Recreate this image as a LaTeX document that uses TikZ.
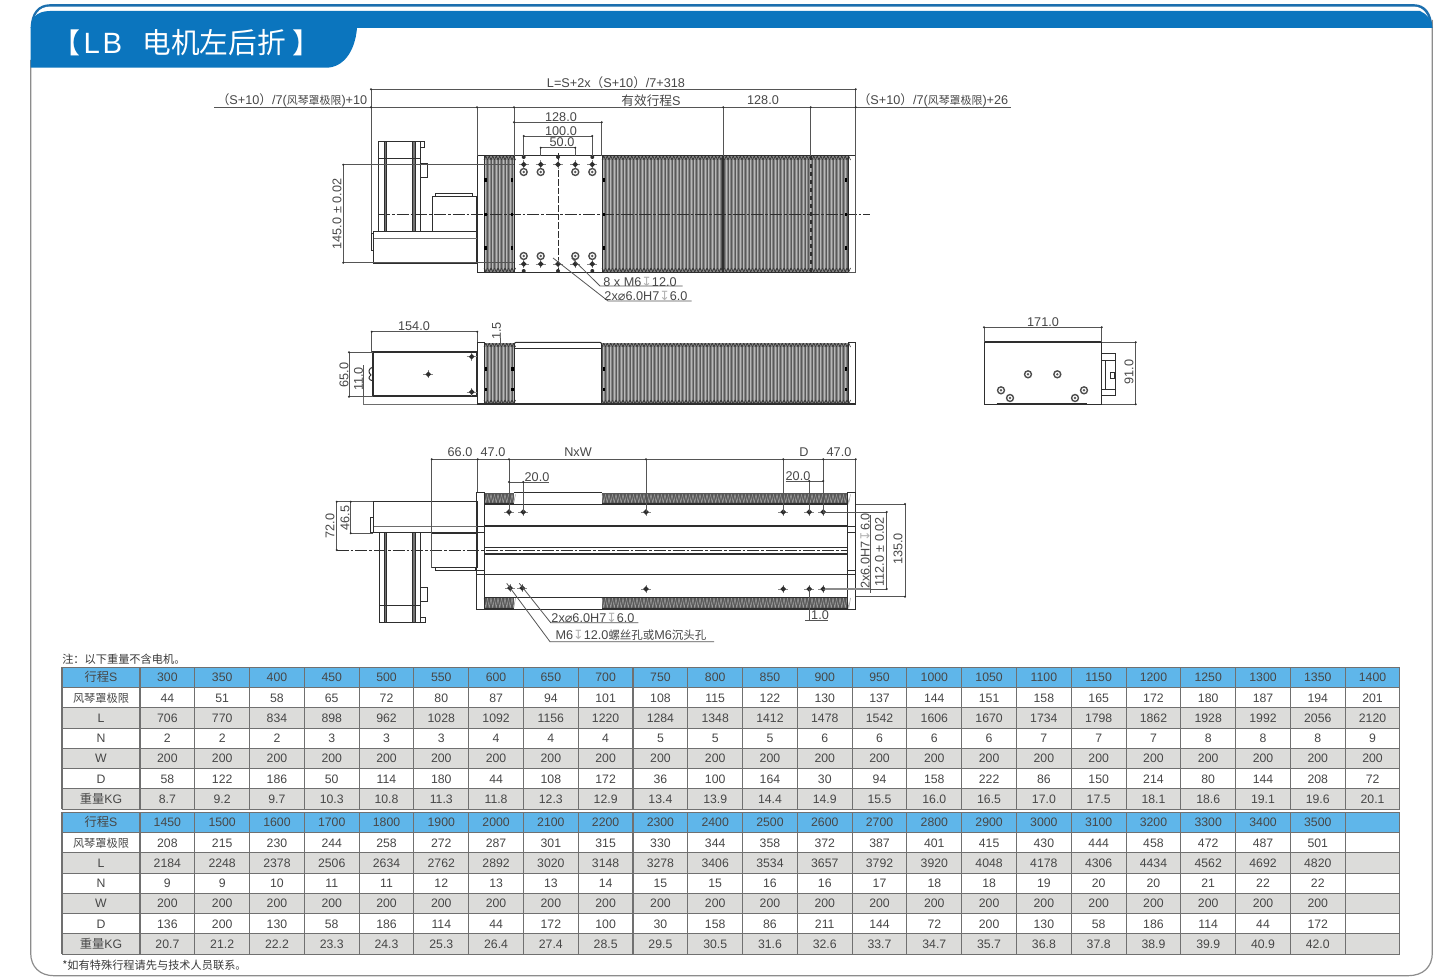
\documentclass[tikz,border=0pt]{standalone}
\usepackage{fontspec}
\setmainfont{Liberation Sans}
\newfontfamily\cjk{Noto Sans CJK SC}
\newfontfamily\symb{DejaVu Sans}
\definecolor{tabblue}{HTML}{0B75BE}
\definecolor{stripblue}{HTML}{1C6FAE}
\definecolor{headblue}{HTML}{5FB6EA}
\definecolor{rowgray}{HTML}{DCDCDA}
\definecolor{gridgray}{HTML}{707070}
\definecolor{framegray}{HTML}{8C8C8C}
\definecolor{txtgray}{HTML}{474747}
\definecolor{lnc}{HTML}{2E2E2E}
\definecolor{dimc}{HTML}{555555}
\definecolor{ribfill}{HTML}{868686}
\newcommand\dept{{\symb\color{black!30}↧}}
\newcommand\dia{{\symb ⌀}}
\tikzset{
    part/.style={draw=lnc, line width=0.75pt},
    heavy/.style={draw=lnc, line width=1.3pt},
    thinpart/.style={draw=lnc!70, line width=0.5pt},
    dimline/.style={draw=dimc, line width=0.6pt},
    centre/.style={draw=lnc, line width=0.7pt, dash pattern=on 9pt off 1.5pt on 2pt off 1.5pt},
    dimtxt/.style={text=txtgray, inner sep=0pt, font=\fontsize{9.5}{11}\selectfont},
    celltxt/.style={text=txtgray, inner sep=0pt, text height=7pt, text depth=0pt, font=\fontsize{9.2}{11}\selectfont},
    notetxt/.style={text=txtgray!80!black, inner sep=0pt, anchor=west, font=\fontsize{8.4}{10}\selectfont},
}
% ribs of a bellows seen from above or from the side
\newcommand\bellows[4]{
    \fill[ribfill] (#1,#3) rectangle (#2,#4);
    \pgfmathsetmacro\nxt{#1+3.5}
    \foreach \x in {#1,\nxt,...,#2} {
        \draw[draw=black!65, line width=0.35pt] (\x,#3+4) -- (\x,#4-3);
        \draw[draw=white!72!black, line width=0.5pt] (\x+1.75,#3+4) -- (\x+1.75,#4-3);
        \draw[draw=lnc, line width=0.45pt] (\x,#3+4) -- (\x+1.75,#3) -- (\x+3.5,#3+4);
        \draw[draw=lnc, line width=0.45pt] (\x,#4-4) -- (\x+1.75,#4) -- (\x+3.5,#4-4);
    }
    \fill[white] (#1,#3-1) rectangle (#2,#3+0.2);
}
% the same ribs seen edge on
\newcommand\ribstrip[4]{
    \fill[black!66] (#1,#3) rectangle (#2,#4);
    \pgfmathsetmacro\nxt{#1+3.5}
    \foreach \x in {#1,\nxt,...,#2} {
        \draw[draw=white!62!black, line width=0.4pt] (\x,#3+1) -- (\x+1.75,#4-1) -- (\x+3.5,#3+1);
    }
    \draw[heavy] (#1,#4) -- (#2,#4);
}
\newcommand\bigdot[2]{\fill[lnc] (#1,#2) circle (1.5pt);}
\newcommand\sqdot[2]{\fill[black] (#1-1.2,#2-1.8) rectangle (#1+1.2,#2+1.8);}
\newcommand\ring[2]{\draw[draw=lnc!85, line width=1.05pt, fill=white] (#1,#2) circle (2.6pt); \fill[lnc!80] (#1,#2) circle (1pt);}
\newcommand\crossmark[2]{
    \draw[draw=dimc!70, line width=0.45pt] (#1-5,#2) -- (#1+5,#2);
    \draw[draw=dimc!70, line width=0.45pt] (#1,#2-4) -- (#1,#2+4);
    \fill[lnc, rotate around={45:(#1,#2)}] (#1-2,#2-2) rectangle (#1+2,#2+2);
}
% one table, #1 is its name, #2 the top edge
\newcommand\datatable[3]{
    \foreach \fillcol [count=\r from 0] in {headblue,white,rowgray,white,rowgray,white,rowgray} {
        \fill[\fillcol] (62,#2+20.25*\r) rectangle (1400,#2+20.25*\r+20.25);
    }
    \foreach \r in {0,...,7} {
        \draw[draw=gridgray, line width=0.8pt] (62,#2+20.25*\r) -- (1400,#2+20.25*\r);
    }
    \draw[draw=gridgray, line width=0.8pt] (62,#2) -- (62,#2+141.75);
    \foreach \c in {0,...,23} {
        \draw[draw=gridgray, line width=0.8pt] (140+54.78*\c,#2) -- (140+54.78*\c,#2+141.75);
    }
    \foreach \rowvals [count=\r from 0] in {#3} {
        \foreach \val [count=\c from 0] in \rowvals {
            \pgfmathsetmacro\cx{\c==0 ? 101 : 140+54.78*(\c-0.5)}
            \node[celltxt] (#1-\r-\c) at (\cx,#2+20.25*\r+10) {\val};
        }
    }
}
\begin{document}
\begin{tikzpicture}[x=0.75pt,y=-0.75pt]
    \useasboundingbox (0,0) rectangle (1444,977);
    \fill[white] (0,0) rectangle (1444,977);

    % page frame and title tab
    \draw[draw=framegray, line width=0.9pt] (30.7,60) -- (30.7,953) .. controls (30.7,967) and (40,975.7) .. (54,975.7) -- (1408,975.7) .. controls (1423,975.7) and (1432.3,967) .. (1432.3,953) -- (1432.3,20);
    \fill[stripblue] (30.7,28) .. controls (30.7,13) and (38,4.2) .. (50,4.2) -- (1414,4.2) .. controls (1425,4.2) and (1432.3,13) .. (1432.3,28) -- cycle;
    \fill[white] (33,28) .. controls (33,15) and (39,6.6) .. (50,6.6) -- (1414,6.6) .. controls (1423,6.6) and (1430,15) .. (1430,28) -- cycle;
    \fill[tabblue] (30.7,67.7) -- (30.7,28) .. controls (30.7,19) and (36,11) .. (50,11) -- (1420,11) .. controls (1427,14) and (1432.3,20) .. (1432.3,28) -- (357,28) .. controls (355,52) and (343,67.7) .. (326,67.7) -- cycle;
    \node[text=white, inner sep=0pt, font=\fontsize{21}{24}\cjk] (titleL) at (66,43) {【};
    \node[text=white, inner sep=0pt, font=\fontsize{22}{24}\selectfont] (titleLB) at (103,43) {L\kern2pt B};
    \node[text=white, inner sep=0pt, font=\fontsize{21.5}{24}\cjk] (titleCN) at (214,43) {电机左后折};
    \node[text=white, inner sep=0pt, font=\fontsize{21}{24}\cjk] (titleR) at (306,43) {】};

    % top view
    \bellows{484}{514}{156}{272}
    \bellows{602}{848}{156}{272}
    \draw[part] (477,156) rectangle (484,272);
    \draw[part] (848,156) rectangle (855.7,272);
    \draw[part] (514,156) rectangle (602,272);
    \draw[part] (484,156) -- (848,156) (484,272) -- (848,272);
    \draw[heavy] (723.3,156) -- (723.3,272);
    \draw[draw=lnc, line width=1.4pt, dashed] (810.7,156) -- (810.7,272);
    \draw[centre] (378,214.3) -- (870,214.3);
    \draw[draw=lnc, line width=0.6pt, dash pattern=on 5pt off 1.5pt] (558,153) -- (558,274);
    \foreach \x in {485.5,512,604,846} {
        \sqdot{\x}{180} \sqdot{\x}{214.3} \sqdot{\x}{248}
    }
    \foreach \x in {523.7,540.7,575.3,592.3} {
        \crossmark{\x}{164.5}
        \ring{\x}{172}
        \crossmark{\x}{264}
        \ring{\x}{256}
    }
    \foreach \x in {523.7,592.3,558} {
        \bigdot{\x}{157} \bigdot{\x}{271}
    }
    \crossmark{558}{164.5}
    \crossmark{558}{264}
    % motor, gearbox and coupling housing
    \draw[part] (378.7,141.7) rectangle (420,231.7);
    \draw[part, fill=black!55] (384,141.7) rectangle (386.7,231.7);
    \draw[part, fill=black!55] (412.3,141.7) rectangle (415,231.7);
    \draw[part] (378.7,159) -- (420,159);
    \draw[part] (420,142) rectangle (424.5,148);
    \draw[part] (420,163.5) rectangle (427,177);
    \draw[part] (432,196.7) rectangle (476.7,231.7);
    \draw[part] (435.7,196.7) -- (435.7,193.7) -- (472.7,193.7) -- (472.7,196.7);
    \draw[part] (373.3,231.7) rectangle (476.7,263.3);
    \draw[heavy] (373.3,263.3) -- (476.7,263.3) (476.7,231.7) -- (476.7,263.3);
    \draw[thinpart] (373.3,238) -- (476.7,238);
    \draw[part] (371,233) rectangle (373.3,250);

    % top view dimensions
    \draw[dimline] (371,233) -- (371,89.3) -- (855.7,89.3) -- (855.7,272) -- (848,272);
    \draw[dimline] (214,107.3) -- (1010.7,107.3);
    \draw[dimline] (477,107.3) -- (477,156);
    \draw[dimline] (514,107.3) -- (514,156);
    \draw[dimline] (723.3,107.3) -- (723.3,156);
    \draw[dimline] (810.7,107.3) -- (810.7,156);
    \draw[dimline] (514,122.3) -- (601.7,122.3) -- (601.7,156);
    \draw[dimline] (523.7,156) -- (523.7,136) -- (592.3,136) -- (592.3,156);
    \draw[dimline] (540.7,156) -- (540.7,147.7) -- (575.3,147.7) -- (575.3,156);
    \draw[dimline] (514,164.7) -- (343.3,164.7) -- (343.3,262.7) -- (514,262.7);
    \draw[dimline] (553,258) -- (608,301) -- (691.7,301);
    \draw[dimline] (571.7,258) -- (600,286) -- (682.7,286);
    \foreach \x/\y in {371/89.3,855.7/89.3,371/107.3,477/107.3,514/107.3,723.3/107.3,810.7/107.3,855.7/107.3,514/122.3,601.7/122.3,523.7/136,592.3/136,540.7/147.7,575.3/147.7,343.3/164.7,343.3/262.7} {
        \fill[lnc] (\x,\y) circle (0.85pt);
    }
    \node[dimtxt] (lenTotal) at (616,82.5) {L=S+2x{\cjk （}S+10{\cjk ）}/7+318};
    \node[dimtxt] (lenLeft) at (292,100.5) {{\cjk （}S+10{\cjk ）}/7({\cjk\fontsize{8.2}{10}\selectfont 风琴罩极限})+10};
    \node[dimtxt] (lenStroke) at (651,100.5) {{\cjk 有效行程}S};
    \node[dimtxt] (lenPitch) at (763,100) {128.0};
    \node[dimtxt] (lenRight) at (933,100.5) {{\cjk （}S+10{\cjk ）}/7({\cjk\fontsize{8.2}{10}\selectfont 风琴罩极限})+26};
    \node[dimtxt] (topA) at (561,117.5) {128.0};
    \node[dimtxt] (topB) at (561,131.5) {100.0};
    \node[dimtxt] (topC) at (562,142.5) {50.0};
    \node[dimtxt, rotate=90] (topH) at (337,214) {145.0 ± 0.02};
    \node[dimtxt] (noteHoles) at (640,281.5) {8 x M6\dept12.0};
    \node[dimtxt] (notePins) at (646,295.5) {2x\dia6.0H7\dept6.0};

    % side view
    \bellows{484}{514.3}{343}{404}
    \bellows{602}{848}{343}{404}
    \draw[part] (477,342.7) rectangle (484,404);
    \draw[part] (848,342.7) rectangle (855.7,404);
    \draw[part] (514.3,348.3) -- (601.7,348.3);
    \draw[part, rounded corners=1.5pt] (514.3,348.3) -- (514.3,342.3) -- (601.7,342.3) -- (601.7,348.3);
    \draw[heavy] (477,404) -- (855.7,404);
    \draw[part] (514.3,348.3) -- (514.3,404) (601.7,348.3) -- (601.7,404);
    \draw[heavy] (373.3,352.3) rectangle (476.7,396);
    \draw[thinpart] (363.3,396) -- (363.3,404.3) -- (477,404.3);
    \draw[part] (373.3,367) .. controls (368,368) and (368,373) .. (371,375) .. controls (368,377) and (368,380) .. (373.3,381);
    \foreach \x in {485.7,512.3,604,846} {
        \sqdot{\x}{368.7} \sqdot{\x}{389.3}
    }
    \crossmark{428.3}{374.3}
    \crossmark{471.7}{356.7}
    \crossmark{471.7}{392}
    \draw[dimline] (371.7,352) -- (371.7,331.7) -- (477.3,331.7) -- (477.3,342);
    \draw[dimline] (373,352.3) -- (349,352.3) -- (349,396.7) -- (373,396.7);
    \draw[dimline] (363.3,365) -- (363.3,396);
    \draw[dimline] (500,338) -- (500,346);
    \foreach \x/\y in {371.7/331.7,477.3/331.7,349/352.3,349/396.7} {
        \fill[lnc] (\x,\y) circle (0.85pt);
    }
    \node[dimtxt] (sideLen) at (414,326) {154.0};
    \node[dimtxt, rotate=90] (sideH) at (344,375) {65.0};
    \node[dimtxt, rotate=90] (sideBase) at (358.5,379) {11.0};
    \node[dimtxt, rotate=90] (sideGap) at (496.5,331) {1.5};

    % end view
    \draw[part] (984,342.3) rectangle (1101.7,404.3);
    \draw[heavy] (984,342.3) -- (1101.7,342.3);
    \draw[heavy] (996.7,404.3) -- (1086.7,404.3);
    \draw[part] (1101.7,353.3) -- (1115,353.3) -- (1115,395.7) -- (1101.7,395.7);
    \draw[part] (1101.7,360) -- (1115,360) (1101.7,389) -- (1115,389) (1105.5,360) -- (1105.5,389);
    \draw[part] (1110,372) rectangle (1114,378);
    \foreach \x/\y in {1028/374.3,1057.3/374.3,1001/390.3,1010/398,1075/398,1084/390.3} {
        \ring{\x}{\y}
    }
    \draw[dimline] (984,342) -- (984,327.3) -- (1101.7,327.3) -- (1101.7,342);
    \draw[dimline] (1101.7,342.3) -- (1135.7,342.3) -- (1135.7,404.3) -- (1101.7,404.3);
    \foreach \x/\y in {984/327.3,1101.7/327.3,1135.7/342.3,1135.7/404.3} {
        \fill[lnc] (\x,\y) circle (0.85pt);
    }
    \node[dimtxt] (endLen) at (1043,322) {171.0};
    \node[dimtxt, rotate=90] (endH) at (1129,372) {91.0};

    % underside view
    \ribstrip{484}{514}{493.3}{504}
    \ribstrip{602}{848}{493.3}{504}
    \ribstrip{484}{514}{597}{609}
    \ribstrip{602}{848}{597}{609}
    \draw[part] (514,492.3) -- (602,492.3) (514,609) -- (602,609);
    \draw[part] (476.7,492.3) rectangle (484.3,609.3);
    \draw[part] (847.7,492.3) rectangle (855.7,609.3);
    \foreach \y in {526,532,570,574.7} {
        \draw[part] (476.7,\y) -- (484.3,\y) (847.7,\y) -- (855.7,\y);
    }
    \draw[part] (484.3,504) -- (847.7,504);
    \draw[part] (484.3,597) -- (847.7,597);
    \draw[draw=lnc, line width=0.9pt] (484.3,526) -- (847.7,526);
    \draw[draw=lnc, line width=0.9pt] (484.3,547.3) -- (847.7,547.3);
    \draw[draw=lnc, line width=1.1pt] (484.3,554) -- (847.7,554);
    \draw[draw=lnc, line width=0.9pt] (484.3,574.7) -- (847.7,574.7);
    \draw[centre] (336.7,550) -- (847.7,550);
    \foreach \x in {509,523.3,646,783.3,809.3,823.3} {
        \crossmark{\x}{512}
    }
    \foreach \x in {646,783.3,809.3,823.3} {
        \crossmark{\x}{589}
    }
    \crossmark{510}{588}
    \crossmark{522.3}{588}
    % motor, gearbox and coupling housing
    \draw[part] (373.3,501.7) rectangle (477,532.7);
    \draw[heavy] (477,501.7) -- (477,532.7);
    \draw[thinpart] (373.3,526) -- (477,526);
    \draw[part] (370,517) rectangle (373.3,532);
    \draw[part] (379,532.7) rectangle (420.7,622.7);
    \draw[part, fill=black!55] (384,532.7) rectangle (386.7,622.7);
    \draw[part, fill=black!55] (412.3,532.7) rectangle (415,622.7);
    \draw[part] (379,605) -- (420.7,605);
    \draw[part] (420.7,587.7) rectangle (427.3,601);
    \draw[part] (420.7,617.5) rectangle (425,622.7);
    \draw[part] (431.7,533) rectangle (477,567.3);
    \draw[part] (435,567.3) -- (435,570.7) -- (475,570.7) -- (475,567.3);

    % underside view dimensions
    \draw[dimline] (431.7,568) -- (431.7,459.3) -- (855.7,459.3) -- (855.7,492);
    \draw[dimline] (477.7,459.3) -- (477.7,492);
    \draw[dimline] (509,459.3) -- (509,512);
    \draw[dimline] (646,459.3) -- (646,512);
    \draw[dimline] (783.3,459.3) -- (783.3,512);
    \draw[dimline] (823.3,459.3) -- (823.3,512);
    \draw[dimline] (509,482) -- (549,482) (523.3,482) -- (523.3,512);
    \draw[dimline] (785.7,481) -- (823.3,481) (809.3,481) -- (809.3,512);
    \draw[dimline] (373,501.7) -- (336.7,501.7) -- (336.7,550);
    \draw[dimline] (373,533.3) -- (350.7,533.3) -- (350.7,501.7);
    \draw[dimline] (856,504) -- (905,504) -- (905,596.7) -- (856,596.7);
    \draw[dimline] (823.3,512) -- (886.7,512) -- (886.7,589) -- (823.3,589);
    \draw[draw=black!45, line width=1.6pt] (825,589) -- (870,589);
    \draw[dimline] (870,515) -- (870,593);
    \draw[dimline] (809.3,589) -- (809.3,620.7) (805,620.7) -- (828,620.7);
    \draw[dimline] (506.7,583.3) -- (550,641.7) -- (714,641.7);
    \draw[dimline] (519.3,583.3) -- (550.7,622.7) -- (638.3,622.7);
    \foreach \x/\y in {431.7/459.3,477.7/459.3,509/459.3,646/459.3,783.3/459.3,823.3/459.3,855.7/459.3,509/482,523.3/482,809.3/481,823.3/481,336.7/501.7,336.7/550,350.7/501.7,350.7/533.3,905/504,905/596.7,886.7/512,886.7/589} {
        \fill[lnc] (\x,\y) circle (0.85pt);
    }
    \node[dimtxt] (underA) at (460,452.5) {66.0};
    \node[dimtxt] (underB) at (493,452.5) {47.0};
    \node[dimtxt] (underN) at (578,452.5) {NxW};
    \node[dimtxt] (underD) at (804,452.5) {D};
    \node[dimtxt] (underE) at (839,452.5) {47.0};
    \node[dimtxt] (underL) at (537,477) {20.0};
    \node[dimtxt] (underR) at (798,476.5) {20.0};
    \node[dimtxt, rotate=90] (underH) at (330,526) {72.0};
    \node[dimtxt, rotate=90] (underI) at (345,518) {46.5};
    \node[dimtxt, rotate=90] (underP) at (865,551) {2x6.0H7\dept6.0};
    \node[dimtxt, rotate=90] (underQ) at (879.5,552) {112.0 ± 0.02};
    \node[dimtxt, rotate=90] (underS) at (898,549) {135.0};
    \node[dimtxt] (underT) at (820,615) {1.0};
    \node[dimtxt] (notePinsB) at (593,617.5) {2x\dia6.0H7\dept6.0};
    \node[dimtxt] (noteHolesB) at (631,635.5) {M6\dept12.0{\cjk\fontsize{8.6}{10}\selectfont 螺丝孔或}M6{\cjk\fontsize{8.6}{10}\selectfont 沉头孔}};

    % tables
    \node[notetxt] (noteTop) at (62,659.5) {{\cjk 注：以下重量不含电机。}};
    \datatable{low}{667.3}{
        {{\cjk 行程}S,300,350,400,450,500,550,600,650,700,750,800,850,900,950,1000,1050,1100,1150,1200,1250,1300,1350,1400},
        {{\cjk\fontsize{8.4}{10}\selectfont 风琴罩极限},44,51,58,65,72,80,87,94,101,108,115,122,130,137,144,151,158,165,172,180,187,194,201},
        {L,706,770,834,898,962,1028,1092,1156,1220,1284,1348,1412,1478,1542,1606,1670,1734,1798,1862,1928,1992,2056,2120},
        {N,2,2,2,3,3,3,4,4,4,5,5,5,6,6,6,6,7,7,7,8,8,8,9},
        {W,200,200,200,200,200,200,200,200,200,200,200,200,200,200,200,200,200,200,200,200,200,200,200},
        {D,58,122,186,50,114,180,44,108,172,36,100,164,30,94,158,222,86,150,214,80,144,208,72},
        {{\cjk 重量}KG,8.7,9.2,9.7,10.3,10.8,11.3,11.8,12.3,12.9,13.4,13.9,14.4,14.9,15.5,16.0,16.5,17.0,17.5,18.1,18.6,19.1,19.6,20.1}}
    \datatable{high}{812.3}{
        {{\cjk 行程}S,1450,1500,1600,1700,1800,1900,2000,2100,2200,2300,2400,2500,2600,2700,2800,2900,3000,3100,3200,3300,3400,3500},
        {{\cjk\fontsize{8.4}{10}\selectfont 风琴罩极限},208,215,230,244,258,272,287,301,315,330,344,358,372,387,401,415,430,444,458,472,487,501},
        {L,2184,2248,2378,2506,2634,2762,2892,3020,3148,3278,3406,3534,3657,3792,3920,4048,4178,4306,4434,4562,4692,4820},
        {N,9,9,10,11,11,12,13,13,14,15,15,16,16,17,18,18,19,20,20,21,22,22},
        {W,200,200,200,200,200,200,200,200,200,200,200,200,200,200,200,200,200,200,200,200,200,200},
        {D,136,200,130,58,186,114,44,172,100,30,158,86,211,144,72,200,130,58,186,114,44,172},
        {{\cjk 重量}KG,20.7,21.2,22.2,23.3,24.3,25.3,26.4,27.4,28.5,29.5,30.5,31.6,32.6,33.7,34.7,35.7,36.8,37.8,38.9,39.9,40.9,42.0}}
    \node[notetxt] (noteBottom) at (62,965) {{\cjk *如有特殊行程请先与技术人员联系。}};
\end{tikzpicture}
\end{document}
